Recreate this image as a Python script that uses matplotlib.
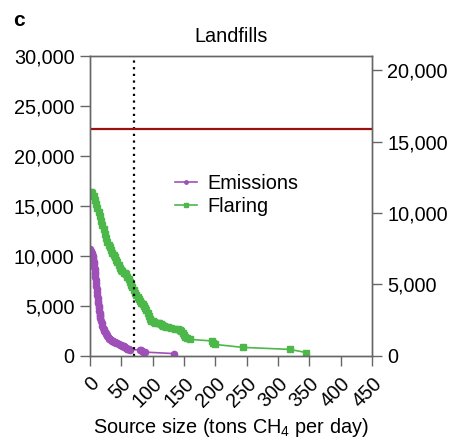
import matplotlib
matplotlib.use("Agg")
import matplotlib.pyplot as plt
from matplotlib.ticker import FuncFormatter

plt.rcParams['font.family'] = ['Liberation Sans', 'DejaVu Sans']
plt.rcParams['mathtext.default'] = 'regular'

# Emissions: source size vs. count (left axis)
em_x = [0, 1, 2, 3, 4, 4.5, 5, 5.5, 6, 6.5, 7, 7.5, 8, 8.5, 9, 9.5, 10, 10.5,
        11, 11.5, 12, 12.5, 13, 13.5, 14, 14.5, 15, 15.5, 16, 16.5, 17, 18, 19,
        20, 21, 22, 23, 24, 25, 26, 27, 28, 29, 30, 31, 32, 33, 34, 35, 36,
        37, 38, 39, 40, 42, 44, 46, 48, 50, 52, 53, 54, 55, 56, 57, 58, 59,
        60, 62, 64, 80, 81, 83, 85, 88, 134]
em_y = [10700, 10600, 10450, 10300, 10100, 9950, 9800, 9600, 9400, 9150,
        8900, 8650, 8400, 8150, 7900, 7600, 7300, 7000, 6700, 6400, 6100,
        5800, 5500, 5250, 5000, 4750, 4500, 4300, 4100, 3950, 3800, 3500,
        3250, 3000, 2820, 2650, 2520, 2400, 2270, 2150, 2050, 1950, 1870,
        1800, 1730, 1660, 1600, 1560, 1520, 1480, 1450, 1430, 1400, 1370,
        1300, 1250, 1190, 1130, 1090, 1030, 1000, 950, 900, 840, 780, 740,
        700, 680, 640, 600, 620, 560, 480, 420, 380, 230]

# Flaring (left axis)
fl_x = [0, 2, 4, 6, 8, 10, 12, 14, 16, 18, 20, 22, 24, 26, 28, 30, 32, 34,
        36, 38, 40, 42, 44, 46, 48, 50, 52, 54, 56, 58, 60, 62, 64, 66, 68,
        70, 72, 74, 76, 78, 80, 82, 84, 86, 88, 90, 92, 94, 96, 98, 100,
        102, 104, 108, 111, 113, 115, 117, 119, 122, 125, 130, 136, 141,
        144, 146, 148, 150, 152, 155, 159, 194, 197, 199, 244, 319, 345]
fl_y = [16400, 16350, 16250, 16000, 15600, 15200, 14800, 14400, 14000, 13500,
        13100, 12700, 12200, 11800, 11400, 11100, 10850, 10600, 10300, 10100,
        9900, 9600, 9350, 9100, 8800, 8600, 8450, 8300, 8250, 8150, 7900,
        7650, 7350, 7100, 6850, 6550, 6300, 6100, 5900, 5700, 5500, 5300,
        5150, 4950, 4750, 4600, 4300, 4000, 3700, 3500, 3450, 3380, 3300,
        3270, 3250, 3180, 3100, 3030, 2950, 2900, 2850, 2800, 2720, 2650,
        2550, 2450, 2300, 2100, 1900, 1750, 1650, 1500, 1300, 1150, 850,
        650, 330]

threshold_x = 70
total_right = 15900

x_ticks = [0, 50, 100, 150, 200, 250, 300, 350, 400, 450]
left_ticks = [0, 5000, 10000, 15000, 20000, 25000, 30000]
right_ticks = [0, 5000, 10000, 15000, 20000]

purple = '#9f50b8'
green = '#4db84a'
spine_c = '#666666'
fs = 14.3

fig = plt.figure(figsize=(4.56, 4.41), dpi=100)
ax = fig.add_axes([0.197, 0.193, 0.619, 0.68])
ax2 = ax.twinx()

ax.plot(em_x, em_y, '-o', color=purple, lw=1.2, ms=4.5, mec=purple, label='Emissions')
ax.plot(fl_x, fl_y, '-s', color=green, lw=1.2, ms=4.3, mec=green, label='Flaring')
ax.axvline(threshold_x, color='black', ls=(0, (1, 2)), lw=1.6)
ax2.axhline(total_right, color='#9b1111', lw=1.6)

ax.set_xlim(0, 450)
ax.set_ylim(0, 30000)
ax2.set_ylim(0, 21000)
ax.set_xticks(x_ticks)
ax.set_yticks(left_ticks)
ax2.set_yticks(right_ticks)
fmt = FuncFormatter(lambda v, p: f'{int(v):,}')
ax.yaxis.set_major_formatter(fmt)
ax2.yaxis.set_major_formatter(fmt)
ax.set_xticklabels([str(t) for t in x_ticks], rotation=45, ha='right',
                   rotation_mode='anchor')

for a in (ax, ax2):
    for s in a.spines.values():
        s.set_color(spine_c)
        s.set_linewidth(1.0)
    a.tick_params(labelsize=fs, color=spine_c, length=7, width=1, pad=4)
ax.tick_params(axis='x', pad=6)

ax.set_xlabel('Source size (tons CH$_4$ per day)', fontsize=fs, labelpad=4)
ax.set_title('Landfills', fontsize=fs, pad=10)
fig.text(0.028, 0.94, 'c', fontsize=15, fontweight='bold')

leg = ax.legend(loc='upper left', bbox_to_anchor=(0.24, 0.665), frameon=False,
                fontsize=fs, handlelength=1.1, handletextpad=0.5,
                labelspacing=0.2, markerscale=0.55)

fig.savefig('out.png', dpi=100)
